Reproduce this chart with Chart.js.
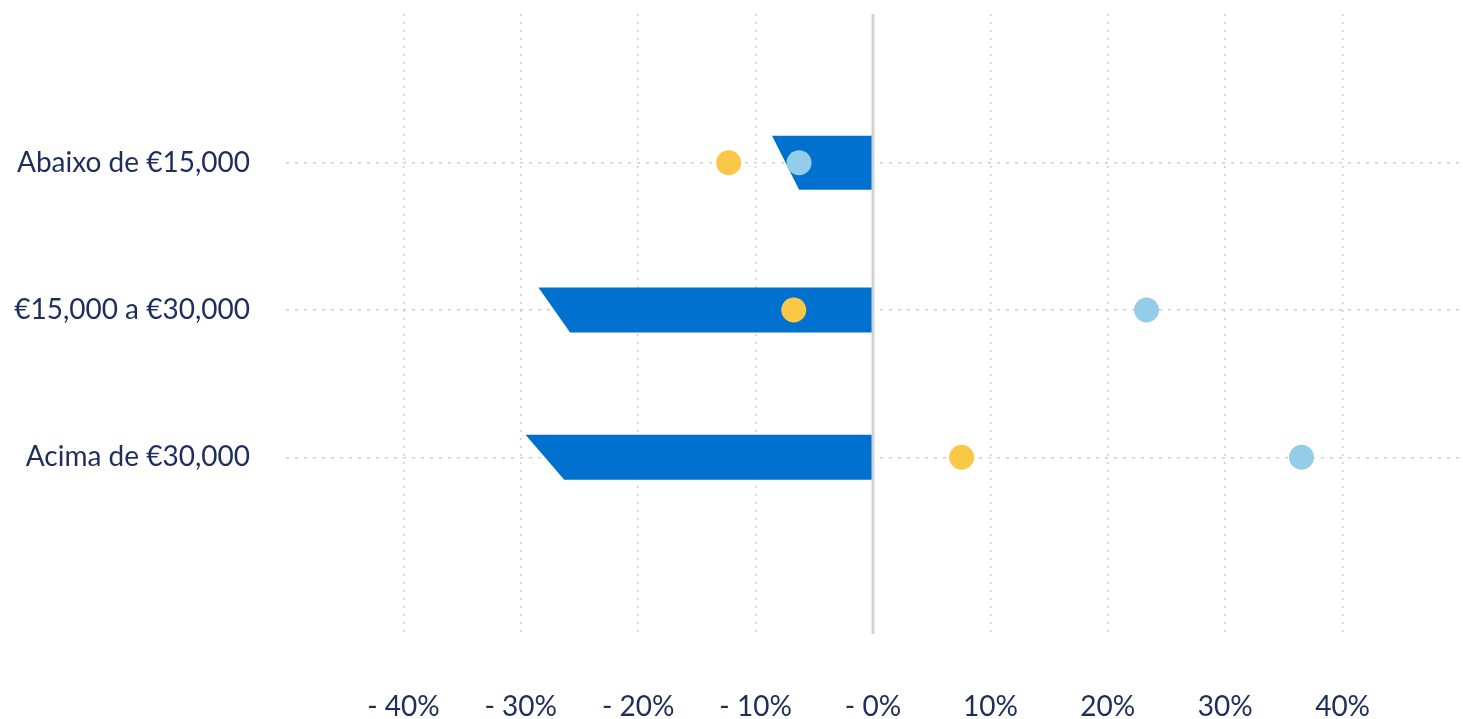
<!DOCTYPE html>
<html>
<head>
<meta charset="utf-8">
<script src="https://cdn.jsdelivr.net/npm/chart.js@4/dist/chart.umd.min.js"></script>
<style>
    html, body { margin: 0; padding: 0; background: #fff; overflow: hidden; }
    #wrap { width: 1463px; height: 719px; position: relative; }
    canvas { display: block; }
</style>
</head>
<body>
<div id="wrap"><canvas id="chart"></canvas></div>
<script>
// row labels, top to bottom
const categories = ['Abaixo de €15,000', '€15,000 a €30,000', 'Acima de €30,000'];
const rowPositions = [1, 2, 3];

// blue bars: value at the bottom edge and at the slanted top edge
const barBottom = [-6.3, -25.8, -26.3];
const barTop = [-8.6, -28.5, -29.6];

// dots
const yellowValues = [-12.3, -6.75, 7.55];
const lightBlueValues = [-6.3, 23.3, 36.5];

const xTickValues = [-40, -30, -20, -10, 0, 10, 20, 30, 40];
const xTickLabels = ['- 40%', '- 30%', '- 20%', '- 10%', '- 0%', '10%', '20%', '30%', '40%'];

const NAVY = '#1f2d5c';
const BAR_BLUE = '#0071ce';
const YELLOW = '#f9c847';
const LIGHT_BLUE = '#94cde8';
const GRID = '#cfcfcf';
const barHeights = [54, 45, 45];

const FONT = { family: 'Lato, sans-serif', size: 28 };

// draws the bars with a slanted left end, plus the solid zero line
const slantBars = {
    id: 'slantBars',
    beforeDatasetDraw(chart, args) {
        if (args.meta.type !== 'bar') return;
        const ctx = chart.ctx;
        const x = chart.scales.x;
        ctx.save();
        ctx.fillStyle = BAR_BLUE;
        args.meta.data.forEach((bar, i) => {
            const h = barHeights[i] / 2;
            const topLeft = x.getPixelForValue(barTop[i]);
            ctx.beginPath();
            ctx.moveTo(topLeft, bar.y - h);
            ctx.lineTo(bar.base, bar.y - h);
            ctx.lineTo(bar.base, bar.y + h);
            ctx.lineTo(bar.x, bar.y + h);
            ctx.closePath();
            ctx.fill();
        });
        const zx = x.getPixelForValue(0);
        ctx.strokeStyle = '#d2d2d2';
        ctx.lineWidth = 3;
        ctx.beginPath();
        ctx.moveTo(zx, chart.chartArea.top);
        ctx.lineTo(zx, chart.chartArea.bottom);
        ctx.stroke();
        ctx.restore();
        return false;
    }
};

const toPoints = vals => vals.map((v, i) => ({ x: v, y: rowPositions[i] }));

// no extra room for half labels, the chart area is set by layout padding
const noPad = s => {
    s.paddingTop = 0; s.paddingBottom = 0; s.paddingLeft = 0; s.paddingRight = 0;
};

new Chart(document.getElementById('chart'), {
    type: 'bar',
    data: {
        datasets: [
            {
                type: 'bar',
                indexAxis: 'y',
                data: toPoints(barBottom),
                backgroundColor: BAR_BLUE,
                barThickness: 45,
                order: 10
            },
            {
                type: 'scatter',
                data: toPoints(yellowValues),
                backgroundColor: YELLOW,
                borderWidth: 0,
                pointRadius: 12.5,
                pointHoverRadius: 12.5,
                order: 1
            },
            {
                type: 'scatter',
                data: toPoints(lightBlueValues),
                backgroundColor: LIGHT_BLUE,
                borderWidth: 0,
                pointRadius: 12.5,
                pointHoverRadius: 12.5,
                order: 0
            }
        ]
    },
    options: {
        responsive: true,
        maintainAspectRatio: false,
        animation: false,
        layout: { autoPadding: false, padding: { top: 14, right: 3, left: 0, bottom: 0 } },
        plugins: { legend: { display: false }, tooltip: { enabled: false } },
        scales: {
            x: {
                type: 'linear',
                min: -50,
                max: 50,
                offset: false,
                afterBuildTicks: s => { s.ticks = xTickValues.map(v => ({ value: v })); },
                afterFit: s => { s.height = 85; noPad(s); },
                border: { display: false, dash: [2, 6] },
                grid: {
                    offset: false,
                    drawTicks: false,
                    color: c => (c.tick && c.tick.value === 0) ? 'rgba(0,0,0,0)' : GRID,
                    lineWidth: 1.5
                },
                ticks: {
                    padding: 56,
                    color: NAVY,
                    font: FONT,
                    callback: (v) => xTickLabels[xTickValues.indexOf(v)]
                }
            },
            y: {
                type: 'linear',
                reverse: true,
                min: -0.01,
                max: 4.2,
                offset: false,
                afterBuildTicks: s => { s.ticks = rowPositions.map(v => ({ value: v })); },
                afterFit: s => { s.width = 286; noPad(s); },
                border: { display: false, dash: [3, 6] },
                grid: { offset: false, drawTicks: false, color: GRID, lineWidth: 1.5 },
                ticks: {
                    padding: 36,
                    color: NAVY,
                    font: FONT,
                    callback: (v) => categories[rowPositions.indexOf(v)]
                }
            }
        }
    },
    plugins: [slantBars]
});
</script>
</body>
</html>
